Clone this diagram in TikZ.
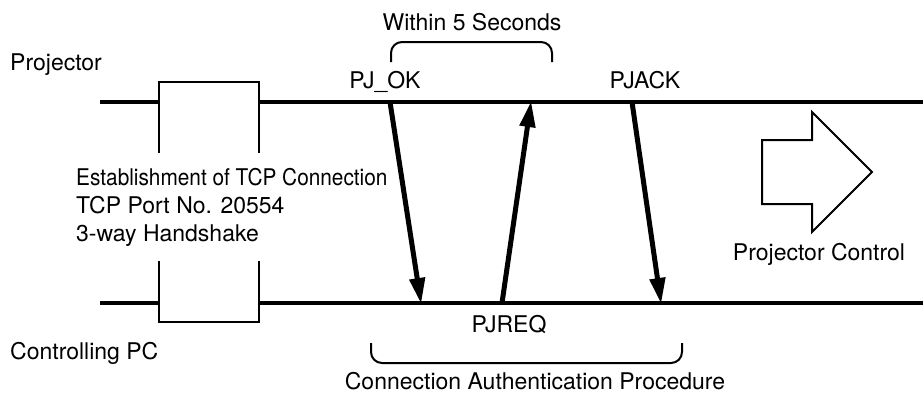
\documentclass[tikz,border=0pt]{standalone}
\usepackage{fontspec}
\setmainfont{TeX Gyre Heros}
\usetikzlibrary{arrows.meta}
\begin{document}
\begin{tikzpicture}[x=1pt,y=-1pt,
  lbl/.style={inner sep=0pt,font=\fontsize{23}{28}\selectfont},
  timeline/.style={line width=3.5pt},
  boxline/.style={line width=2.5pt},
  msg/.style={line width=5pt,-{Triangle[length=26pt,width=15pt]},shorten >=-1pt},
  brace/.style={line width=2pt,rounded corners=11pt},
  bigarrow/.style={line width=2pt,line join=miter}]
\useasboundingbox (0,0) rectangle (923,394);
% coordinates
\coordinate (pL) at (100,102); \coordinate (pR) at (923,102);
\coordinate (cL) at (100,303); \coordinate (cR) at (923,303);
\coordinate (okS) at (390,102); \coordinate (okE) at (421,303);
\coordinate (reqS) at (502,303); \coordinate (reqE) at (531,102);
\coordinate (ackS) at (632,102); \coordinate (ackE) at (661,303);
% timelines
\draw[timeline] (pL) -- (159,102);
\draw[timeline] (259,102) -- (pR);
\draw[timeline] (cL) -- (159,303);
\draw[timeline] (259,303) -- (cR);
% TCP box
\draw[boxline] (159,153) -- (159,82) -- (259,82) -- (259,153);
\draw[boxline] (159,261) -- (159,322) -- (259,322) -- (259,261);
% messages
\draw[msg] (okS) -- (okE);
\draw[msg] (reqS) -- (reqE);
\draw[msg] (ackS) -- (ackE);
% braces
\draw[brace] (391,62) -- (391,42) -- (552,42) -- (552,62);
\draw[brace] (371,343) -- (371,363) -- (682,363) -- (682,343);
% big arrow
\draw[bigarrow] (762,140) -- (812,140) -- (812,112) -- (872,172) -- (812,232) -- (812,204) -- (762,204) -- cycle;
% labels
\node[lbl,anchor=base west] (proj) at (10,70) {Projector};
\node[lbl,anchor=base west] (pc) at (10,359) {Controlling PC};
\node[lbl,anchor=base] (within) at (472,30) {Within 5 Seconds};
\node[lbl,anchor=base] (ok) at (385,88) {PJ\_OK};
\node[lbl,anchor=base] (ack) at (645,88) {PJACK};
\node[lbl,anchor=base] (req) at (509,332) {PJREQ};
\node[lbl,anchor=base] (auth) at (535,389) {Connection Authentication Procedure};
\node[lbl,anchor=base] (ctrl) at (819,260) {Projector Control};
\node[lbl,anchor=base west] (est) at (76,185) {\scalebox{0.905}[1]{Establishment of TCP Connection}};
\node[lbl,anchor=base west] (port) at (76,213) {TCP Port No. 20554};
\node[lbl,anchor=base west] (hand) at (76,241) {3-way Handshake};
\end{tikzpicture}
\end{document}
